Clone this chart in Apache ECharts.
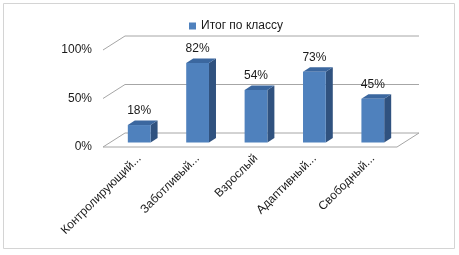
<!DOCTYPE html>
<html>
<head>
<meta charset="utf-8">
<script src="https://cdn.jsdelivr.net/npm/echarts@6/dist/echarts.min.js"></script>
<style>
  html, body { margin: 0; padding: 0; background: #fff; }
  #main { width: 459px; height: 255px; }
</style>
</head>
<body>
<div id="main"></div>
<script>
var categories = ['Контролирующий...', 'Заботливый...', 'Взрослый', 'Адаптивный...', 'Свободный...'];
var values = [18, 82, 54, 73, 45];
var yTicks = [0, 50, 100];
var seriesName = 'Итог по классу';

// fake 3d: back wall shift and bar depth shift (px)
var wallDx = 22, wallDy = -14;
var barDx = 7, barDy = -4.5;

var chart = echarts.init(document.getElementById('main'));

function renderWall(params, api) {
    var v = api.value(1);
    var cs = params.coordSys;
    var y = api.coord([0, v])[1];
    var x0 = cs.x, x1 = cs.x + cs.width;
    var pts = [[x0, y], [x0 + wallDx, y + wallDy], [x1 + wallDx, y + wallDy]];
    if (v === 0) {
        pts.push([x1, y], [x0, y]);
    }
    return {
        type: 'polyline',
        shape: { points: pts },
        style: { stroke: '#a6a6a6', lineWidth: 1, fill: null },
        silent: true
    };
}

function renderBar(params, api) {
    var i = api.value(0), v = api.value(1);
    var base = api.coord([i, 0]);
    var top = api.coord([i, v]);
    var w = api.size([1, 0])[0] * 0.39;
    var l = base[0] - w / 2, r = base[0] + w / 2;
    var yb = base[1], yt = top[1];
    return {
        type: 'group',
        children: [
            {   // side
                type: 'polygon',
                shape: { points: [[r, yb], [r + barDx, yb + barDy], [r + barDx, yt + barDy], [r, yt]] },
                style: { fill: '#30527f' }
            },
            {   // top
                type: 'polygon',
                shape: { points: [[l, yt], [l + barDx, yt + barDy], [r + barDx, yt + barDy], [r, yt]] },
                style: { fill: '#3b679f' }
            },
            {   // front
                type: 'rect',
                shape: { x: l, y: yt, width: w, height: yb - yt },
                style: { fill: '#4f81bd' }
            },
            {
                type: 'text',
                x: base[0],
                y: yt + barDy - 4,
                style: {
                    text: v + '%',
                    align: 'center',
                    verticalAlign: 'bottom',
                    font: '12px "Liberation Sans"',
                    fill: '#1a1a1a'
                }
            }
        ]
    };
}

chart.setOption({
    animation: false,
    backgroundColor: '#fff',
    textStyle: { fontFamily: 'Liberation Sans' },
    graphic: [{
        type: 'rect',
        shape: { x: 3.5, y: 3.5, width: 451, height: 245 },
        style: { fill: null, stroke: '#d4d4d4', lineWidth: 1 },
        silent: true
    }],
    legend: {
        data: [{ name: seriesName, icon: 'rect' }],
        left: 184,
        top: 15,
        itemWidth: 7,
        itemHeight: 7,
        itemGap: 5,
        textStyle: { fontSize: 12, color: '#1a1a1a' }
    },
    grid: [
        { left: 103, right: 62, top: 50, bottom: 108 },
        { left: 110, right: 57, top: 45.5, bottom: 112.5 }
    ],
    xAxis: [
        {
            gridIndex: 0, type: 'category', data: categories,
            axisLine: { show: false }, axisTick: { show: false }, axisLabel: { show: false }
        },
        {
            gridIndex: 1, type: 'category', data: categories,
            axisLine: { show: false }, axisTick: { show: false },
            axisLabel: { rotate: 45, margin: 14, interval: 0, fontSize: 12, color: '#1a1a1a' }
        }
    ],
    yAxis: [
        {
            gridIndex: 0, type: 'value', min: 0, max: 100, interval: 50,
            axisLine: { show: false }, axisTick: { show: false }, splitLine: { show: false },
            axisLabel: { formatter: '{value}%', margin: 11, fontSize: 12, color: '#1a1a1a' }
        },
        {
            gridIndex: 1, type: 'value', min: 0, max: 100, show: false
        }
    ],
    series: [
        {
            name: 'walls',
            type: 'custom',
            xAxisIndex: 0, yAxisIndex: 0,
            renderItem: renderWall,
            data: yTicks.map(function (v) { return [0, v]; }),
            z: 1
        },
        {
            name: seriesName,
            type: 'custom',
            xAxisIndex: 1, yAxisIndex: 1,
            itemStyle: { color: '#4f81bd' },
            renderItem: renderBar,
            encode: { x: 0, y: 1 },
            data: values.map(function (v, i) { return [i, v]; }),
            z: 2
        }
    ]
});
</script>
</body>
</html>
